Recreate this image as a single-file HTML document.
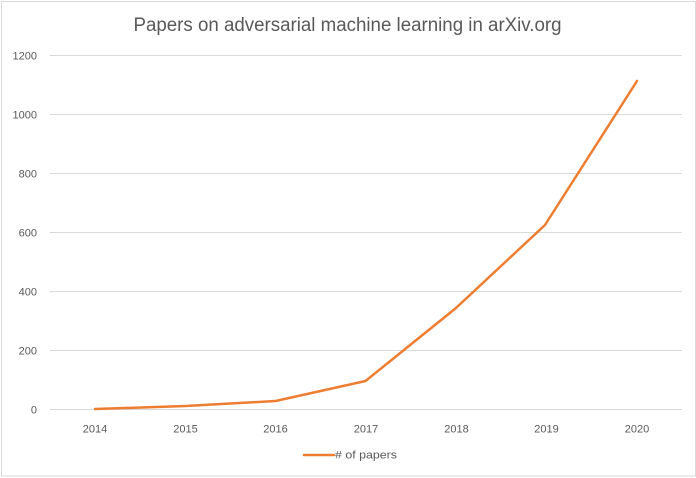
<!DOCTYPE html>
<html>
<head>
<meta charset="utf-8">
<style>
  html,body{margin:0;padding:0;background:#fff;}
  svg{display:block;}
  text{font-family:"Liberation Sans",sans-serif;fill:#595959;}
</style>
</head>
<body>
<svg width="696" height="478" viewBox="0 0 696 478" xmlns="http://www.w3.org/2000/svg">
  <rect x="0" y="0" width="696" height="478" fill="#fff"/>
  <rect x="1.5" y="1.5" width="694" height="474.5" fill="none" stroke="#d9d9d9" stroke-width="1"/>
  <text x="133.5" y="31" font-size="19" textLength="428" lengthAdjust="spacingAndGlyphs">Papers on adversarial machine learning in arXiv.org</text>
  <g stroke="#d9d9d9" stroke-width="1">
    <line x1="50" y1="55.5" x2="682" y2="55.5"/>
    <line x1="50" y1="114.5" x2="682" y2="114.5"/>
    <line x1="50" y1="173.5" x2="682" y2="173.5"/>
    <line x1="50" y1="232.5" x2="682" y2="232.5"/>
    <line x1="50" y1="291.5" x2="682" y2="291.5"/>
    <line x1="50" y1="350.5" x2="682" y2="350.5"/>
    <line x1="50" y1="409.5" x2="682" y2="409.5"/>
  </g>
  <g font-size="11" text-anchor="end">
    <text x="37" y="59.5">1200</text>
    <text x="37" y="118.5">1000</text>
    <text x="37" y="177.5">800</text>
    <text x="37" y="236.5">600</text>
    <text x="37" y="295.5">400</text>
    <text x="37" y="354.5">200</text>
    <text x="37" y="413.5">0</text>
  </g>
  <g font-size="11" text-anchor="middle">
    <text x="95" y="432.5">2014</text>
    <text x="185.5" y="432.5">2015</text>
    <text x="275.5" y="432.5">2016</text>
    <text x="366" y="432.5">2017</text>
    <text x="456.5" y="432.5">2018</text>
    <text x="546.5" y="432.5">2019</text>
    <text x="637" y="432.5">2020</text>
  </g>
  <polyline points="95,409 185.5,406 275.5,401 365.5,381 456,308 545,225 637,81" fill="none" stroke="#ED7D31" stroke-width="2.5" stroke-linejoin="round" stroke-linecap="round"/>
  <line x1="304" y1="455" x2="334" y2="455" stroke="#ED7D31" stroke-width="2.5" stroke-linecap="round"/>
  <text x="335" y="458.5" font-size="11" textLength="62" lengthAdjust="spacingAndGlyphs">  # of papers</text>
</svg>
</body>
</html>
